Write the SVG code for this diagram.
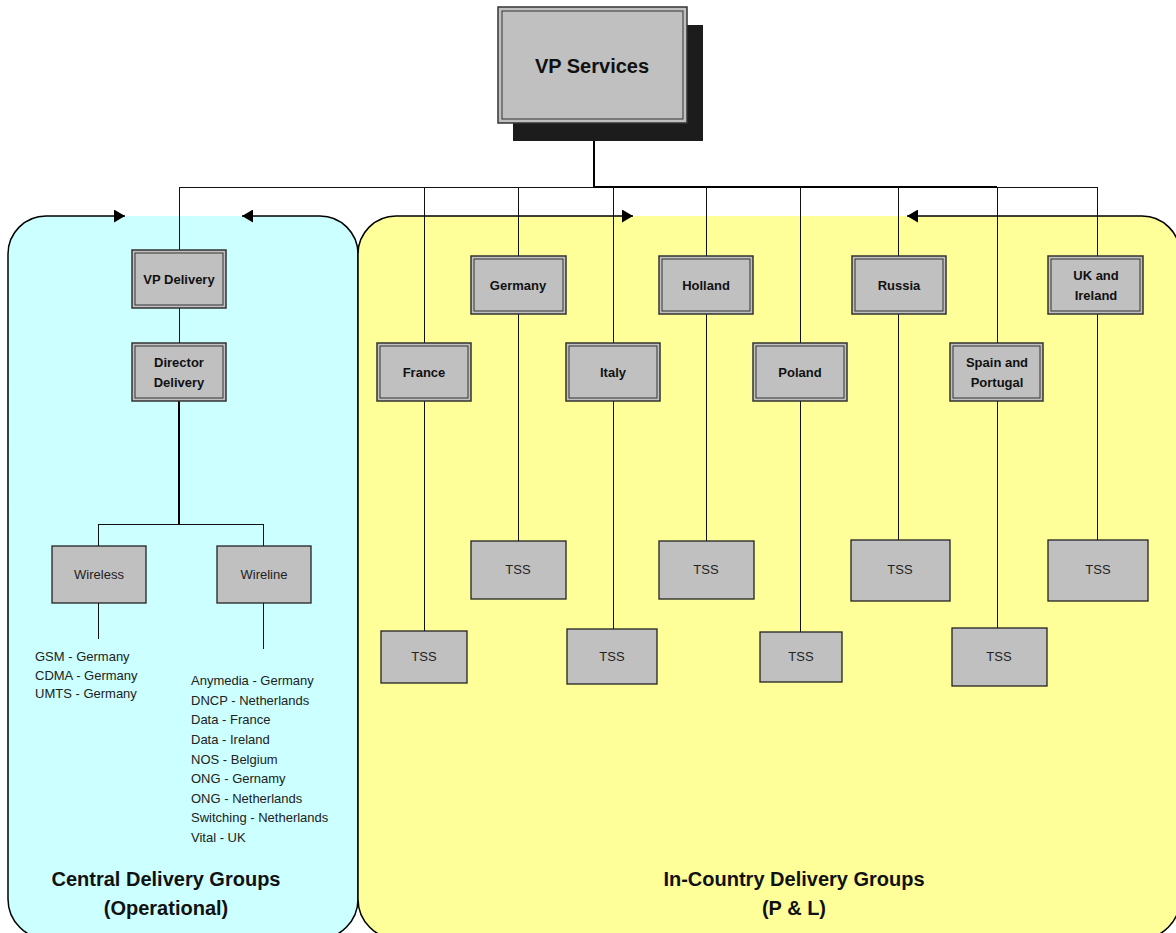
<svg xmlns="http://www.w3.org/2000/svg" width="1176" height="933" viewBox="0 0 1176 933">
  <style>
    .panel-edge { fill: none; stroke: #000; stroke-width: 1.5; marker-end: url(#arrow); }
    .outer { fill: #c0c0c0; stroke: #333; stroke-width: 1.5; }
    .inner { fill: none; stroke: #333; stroke-width: 1; }
    .plain { fill: #c0c0c0; stroke: #222; stroke-width: 1.3; }
    .lbl { font-family: "Liberation Sans", Arial, sans-serif; font-size: 13px; font-weight: bold; fill: #111; text-anchor: middle; }
    .tss { font-family: "Liberation Sans", Arial, sans-serif; font-size: 13px; fill: #222; text-anchor: middle; }
    .list { font-family: "Liberation Sans", Arial, sans-serif; font-size: 13px; fill: #222; }
    .title { font-family: "Liberation Sans", Arial, sans-serif; font-size: 20px; font-weight: bold; fill: #111; text-anchor: middle; }
    .wire { fill: none; stroke: #111; stroke-width: 1; shape-rendering: crispEdges; }
    .wire2 { fill: none; stroke: #000; stroke-width: 2; shape-rendering: crispEdges; }
  </style>
  <defs>
    <marker id="arrow" markerUnits="userSpaceOnUse" markerWidth="11" markerHeight="13" viewBox="0 0 11 13" refX="11" refY="6.5" orient="auto">
      <path d="M0,0 L11,6.5 L0,13 z" fill="#000"/>
    </marker>
  </defs>

  <!-- background panels -->
  <g id="central-panel">
    <rect x="8" y="216" width="350" height="723" rx="38" ry="38" fill="#ccffff"/>
    <path class="panel-edge" d="M200 939 L48 939 A40 40 0 0 1 8 899 L8 254 A38 38 0 0 1 46 216 L125 216"/>
    <path class="panel-edge" d="M200 939 L318 939 A40 40 0 0 0 358 899 L358 254 A38 38 0 0 0 320 216 L242 216"/>
    <text class="title" x="166" y="886">Central Delivery Groups</text>
    <text class="title" x="166" y="915">(Operational)</text>
  </g>
  <g id="country-panel">
    <rect x="358" y="216" width="822" height="723" rx="38" ry="38" fill="#ffff99"/>
    <path class="panel-edge" d="M700 939 L398 939 A40 40 0 0 1 358 899 L358 254 A38 38 0 0 1 396 216 L633 216"/>
    <path class="panel-edge" d="M700 939 L1140 939 A40 40 0 0 0 1180 899 L1180 254 A38 38 0 0 0 1142 216 L907 216"/>
    <text class="title" x="794" y="886">In-Country Delivery Groups</text>
    <text class="title" x="794" y="915">(P &amp; L)</text>
  </g>

  <!-- connectors -->
  <g id="connectors">
    <path class="wire2" d="M594 123 V187 M594 187 H997"/>
    <path class="wire" d="M179 187 H594 M997 187 H1097"/>
    <path class="wire" d="M179 187 V250 M179 308 V343"/>
    <path class="wire2" d="M179 401 V524"/>
    <path class="wire" d="M98 546 V524 H263 V546"/>
    <path class="wire" d="M98 603 V639 M263 603 V649"/>
    <path class="wire" d="M424 187 V343 M424 400 V631"/>
    <path class="wire" d="M518 187 V256 M518 314 V541"/>
    <path class="wire" d="M613 187 V343 M613 400 V629"/>
    <path class="wire" d="M706 187 V256 M706 314 V541"/>
    <path class="wire" d="M800 187 V343 M800 401 V632"/>
    <path class="wire" d="M898 187 V256 M898 314 V540"/>
    <path class="wire" d="M997 187 V343 M997 401 V628"/>
    <path class="wire" d="M1097 187 V256 M1097 314 V540"/>
  </g>

  <!-- top node with drop shadow -->
  <g id="vp-services">
    <rect x="513" y="25" width="190" height="116" fill="#1c1c1c"/>
    <rect class="outer" x="498" y="7" width="189" height="116"/>
    <rect class="inner" x="502" y="11" width="181" height="108"/>
    <text class="title" x="592" y="73">VP Services</text>
  </g>

  <g id="vp-delivery">
    <rect class="outer" x="132" y="250" width="94" height="58"/>
    <rect class="inner" x="135" y="253" width="88" height="52"/>
    <text class="lbl" x="179" y="284">VP Delivery</text>
  </g>
  <g id="director-delivery">
    <rect class="outer" x="132" y="343" width="94" height="58"/>
    <rect class="inner" x="135" y="346" width="88" height="52"/>
    <text class="lbl" x="179" y="367">Director</text>
    <text class="lbl" x="179" y="387">Delivery</text>
  </g>
  <g id="wireless">
    <rect class="plain" x="52" y="546" width="94" height="57"/>
    <text class="tss" x="99" y="579">Wireless</text>
  </g>
  <g id="wireline">
    <rect class="plain" x="217" y="546" width="94" height="57"/>
    <text class="tss" x="264" y="579">Wireline</text>
  </g>
  <g id="wireless-list">
    <text class="list" x="35" y="661">GSM - Germany</text>
    <text class="list" x="35" y="680">CDMA - Germany</text>
    <text class="list" x="35" y="698">UMTS - Germany</text>
  </g>
  <g id="wireline-list">
    <text class="list" x="191" y="685">Anymedia - Germany</text>
    <text class="list" x="191" y="705">DNCP - Netherlands</text>
    <text class="list" x="191" y="724">Data - France</text>
    <text class="list" x="191" y="744">Data - Ireland</text>
    <text class="list" x="191" y="764">NOS - Belgium</text>
    <text class="list" x="191" y="783">ONG - Gernamy</text>
    <text class="list" x="191" y="803">ONG - Netherlands</text>
    <text class="list" x="191" y="822">Switching - Netherlands</text>
    <text class="list" x="191" y="842">Vital - UK</text>
  </g>

  <!-- country heads -->
  <g id="france">
    <rect class="outer" x="377" y="343" width="94" height="58"/>
    <rect class="inner" x="380" y="346" width="88" height="52"/>
    <text class="lbl" x="424" y="377">France</text>
  </g>
  <g id="germany">
    <rect class="outer" x="471" y="256" width="95" height="58"/>
    <rect class="inner" x="474" y="259" width="89" height="52"/>
    <text class="lbl" x="518" y="290">Germany</text>
  </g>
  <g id="italy">
    <rect class="outer" x="566" y="343" width="94" height="58"/>
    <rect class="inner" x="569" y="346" width="88" height="52"/>
    <text class="lbl" x="613" y="377">Italy</text>
  </g>
  <g id="holland">
    <rect class="outer" x="659" y="256" width="94" height="58"/>
    <rect class="inner" x="662" y="259" width="88" height="52"/>
    <text class="lbl" x="706" y="290">Holland</text>
  </g>
  <g id="poland">
    <rect class="outer" x="753" y="343" width="94" height="58"/>
    <rect class="inner" x="756" y="346" width="88" height="52"/>
    <text class="lbl" x="800" y="377">Poland</text>
  </g>
  <g id="russia">
    <rect class="outer" x="852" y="256" width="94" height="58"/>
    <rect class="inner" x="855" y="259" width="88" height="52"/>
    <text class="lbl" x="899" y="290">Russia</text>
  </g>
  <g id="spain-portugal">
    <rect class="outer" x="950" y="343" width="93" height="58"/>
    <rect class="inner" x="953" y="346" width="87" height="52"/>
    <text class="lbl" x="997" y="367">Spain and</text>
    <text class="lbl" x="997" y="387">Portugal</text>
  </g>
  <g id="uk-ireland">
    <rect class="outer" x="1048" y="256" width="95" height="58"/>
    <rect class="inner" x="1051" y="259" width="89" height="52"/>
    <text class="lbl" x="1096" y="280">UK and</text>
    <text class="lbl" x="1096" y="300">Ireland</text>
  </g>

  <!-- TSS units -->
  <g id="tss-france">
    <rect class="plain" x="381" y="631" width="86" height="52"/>
    <text class="tss" x="424" y="661">TSS</text>
  </g>
  <g id="tss-germany">
    <rect class="plain" x="471" y="541" width="95" height="58"/>
    <text class="tss" x="518" y="574">TSS</text>
  </g>
  <g id="tss-italy">
    <rect class="plain" x="567" y="629" width="90" height="55"/>
    <text class="tss" x="612" y="661">TSS</text>
  </g>
  <g id="tss-holland">
    <rect class="plain" x="659" y="541" width="95" height="58"/>
    <text class="tss" x="706" y="574">TSS</text>
  </g>
  <g id="tss-poland">
    <rect class="plain" x="760" y="632" width="82" height="50"/>
    <text class="tss" x="801" y="661">TSS</text>
  </g>
  <g id="tss-russia">
    <rect class="plain" x="851" y="540" width="99" height="61"/>
    <text class="tss" x="900" y="574">TSS</text>
  </g>
  <g id="tss-spain">
    <rect class="plain" x="952" y="628" width="95" height="58"/>
    <text class="tss" x="999" y="661">TSS</text>
  </g>
  <g id="tss-uk">
    <rect class="plain" x="1048" y="540" width="100" height="61"/>
    <text class="tss" x="1098" y="574">TSS</text>
  </g>
</svg>
